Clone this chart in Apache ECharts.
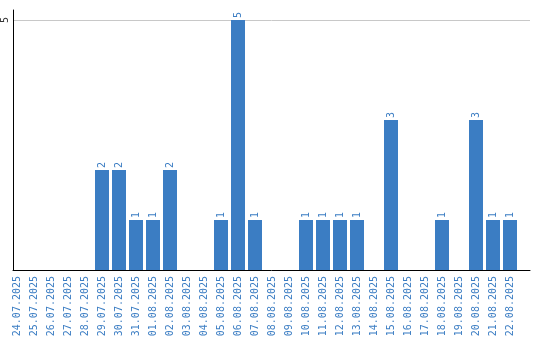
<!DOCTYPE html>
<html><head><meta charset="utf-8">
<script src="https://cdn.jsdelivr.net/npm/echarts@6/dist/echarts.min.js"></script>
<style>html,body{margin:0;padding:0;background:#fff}#c{width:540px;height:340px}</style>
</head><body><div id="c"></div>
<script>
const categories = ["24.07.2025","25.07.2025","26.07.2025","27.07.2025","28.07.2025","29.07.2025","30.07.2025","31.07.2025","01.08.2025","02.08.2025","03.08.2025","04.08.2025","05.08.2025","06.08.2025","07.08.2025","08.08.2025","09.08.2025","10.08.2025","11.08.2025","12.08.2025","13.08.2025","14.08.2025","15.08.2025","16.08.2025","17.08.2025","18.08.2025","19.08.2025","20.08.2025","21.08.2025","22.08.2025"];
const values = [0,0,0,0,0,2,2,1,1,2,0,0,1,5,1,0,0,1,1,1,1,0,3,0,0,1,0,3,1,1];
const yTicks = [5];

const blue = '#3b7dc3';
const font = '"DejaVu Sans Mono", "Liberation Mono", monospace';
const chart = echarts.init(document.getElementById('c'), null, {renderer:'canvas'});
chart.setOption({
  animation:false,
  grid:[
    {left:8.5, right:21.5, top:10, bottom:70},
    {left:10, right:10, top:10, bottom:70}
  ],
  xAxis:[
    {type:'category', gridIndex:0, data:categories,
     axisLine:{show:false}, axisTick:{show:false},
     axisLabel:{interval:0, rotate:90, color:blue, fontFamily:font, fontSize:10, margin:6}},
    {type:'value', gridIndex:1, min:0, max:1,
     axisLine:{show:true, lineStyle:{color:'#000', width:1}}, axisTick:{show:false},
     axisLabel:{show:false}, splitLine:{show:false}}
  ],
  yAxis:[
    {type:'value', gridIndex:0, min:0, max:5.2, interval:5, show:false},
    {type:'value', gridIndex:1, min:0, max:5.2, interval:5,
     axisLine:{show:true, lineStyle:{color:'#000', width:1}}, axisTick:{show:false},
     axisLabel:{rotate:90, color:'#333', fontFamily:font, fontSize:10, margin:3,
       formatter:v => yTicks.includes(v) ? String(v) : ''},
     splitLine:{show:true, lineStyle:{color:['transparent','#c8c8c8','transparent'], width:1}}}
  ],
  series:[{
    type:'bar', xAxisIndex:0, yAxisIndex:0, data:values, barWidth:14,
    itemStyle:{color:blue},
    label:{show:true, position:'top', rotate:90, align:'left', verticalAlign:'middle', distance:2,
      color:blue, fontFamily:font, fontSize:10,
      formatter:p => p.value > 0 ? String(p.value) : ''}
  }]
});
</script></body></html>
